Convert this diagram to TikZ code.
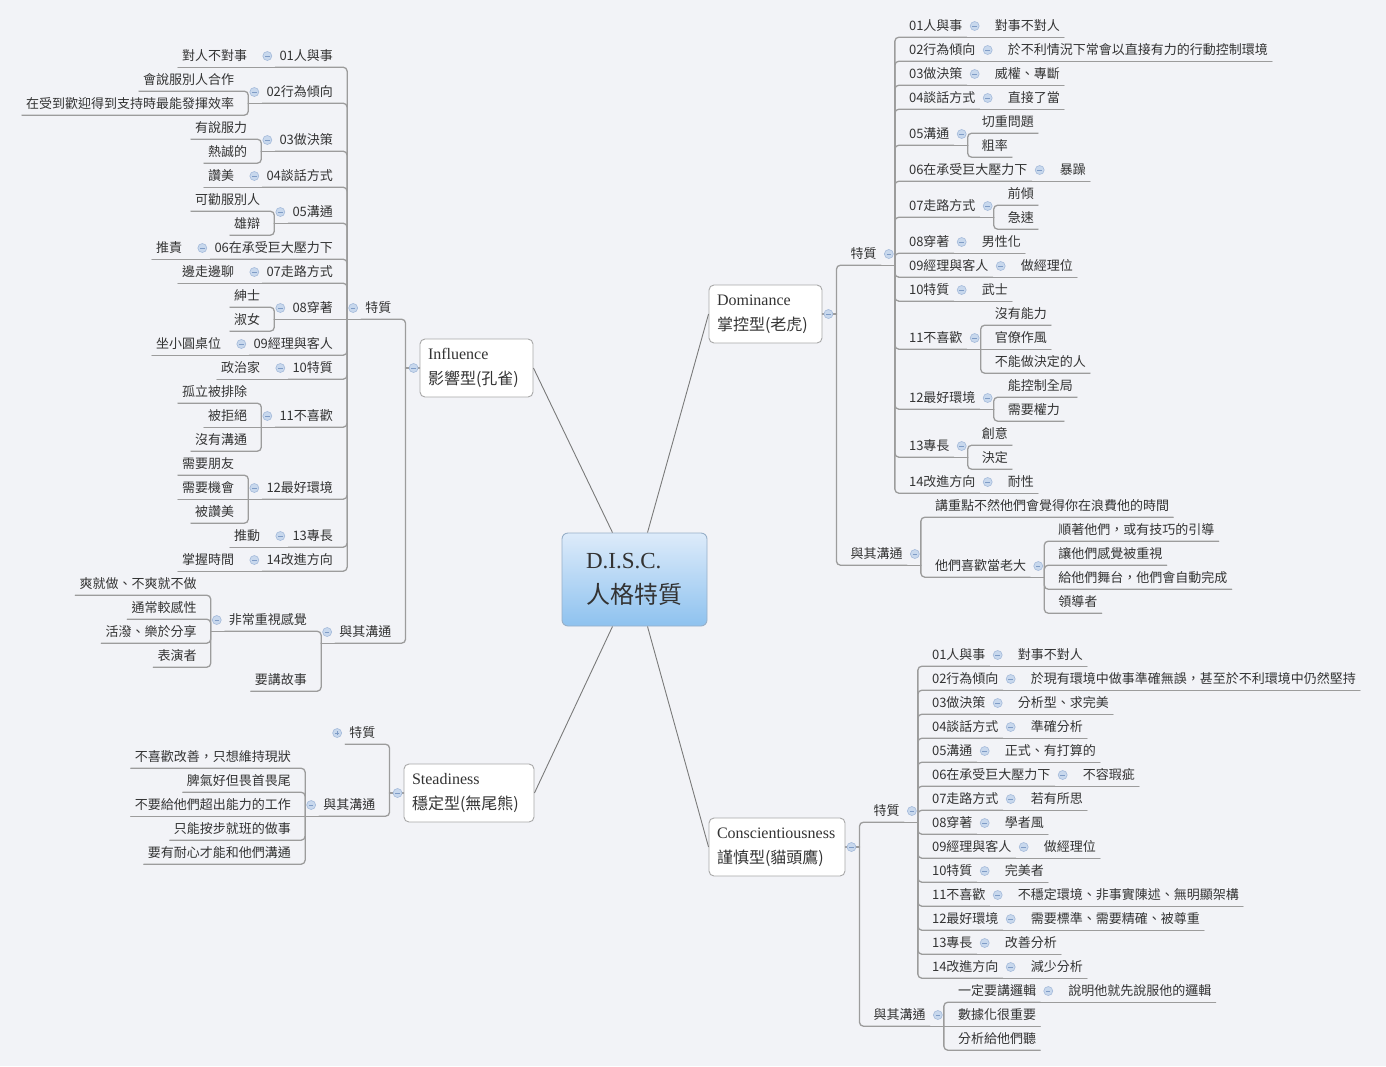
\documentclass[tikz,border=0pt]{standalone}
\usepackage{fontspec}
\setmainfont{Noto Sans CJK TC}
\newfontfamily\romfont{Liberation Serif}
\usetikzlibrary{positioning}
\definecolor{paper}{HTML}{F2F3F7}
\definecolor{ink}{HTML}{333333}
\definecolor{wire}{HTML}{9C9C9C}
\definecolor{spk}{HTML}{7A7A7A}
\definecolor{boxl}{HTML}{A8A8A8}
\definecolor{ctop}{HTML}{DDEBFA}
\definecolor{cbot}{HTML}{8EC2EF}
\definecolor{cbrd}{HTML}{97AFC8}
\definecolor{icf}{HTML}{C8D8ED}
\definecolor{icd}{HTML}{A4BADA}
\definecolor{icm}{HTML}{7F9CC6}
\tikzset{
  it/.style={inner xsep=4pt, inner ysep=4.5pt, text height=11pt, text depth=2pt, text=ink, font=\fontsize{13}{15}\selectfont},
  wl/.style={wire, line width=1.3pt, rounded corners=4pt, line cap=round},
  topic/.style={draw=boxl, fill=white, line width=0.9pt, rounded corners=5pt, inner xsep=8pt, inner ysep=0pt, minimum height=58pt, align=left, text=ink, font=\fontsize{16}{25}\selectfont},
  hub/.style={draw=cbrd, top color=ctop, bottom color=cbot, line width=0.9pt, rounded corners=6pt, inner xsep=24pt, minimum height=93pt, text width=97pt, align=left, text=ink, font=\fontsize{24}{35}\selectfont},
  fold/.style={circle, draw=icd, fill=icf, line width=0.6pt, inner sep=0pt, minimum size=9pt, path picture={\draw[icm, line width=0.9pt] ([xshift=-2.2pt]path picture bounding box.center) -- ([xshift=2.2pt]path picture bounding box.center);}},
  unfold/.style={circle, draw=icd, fill=icf, line width=0.6pt, inner sep=0pt, minimum size=9pt, path picture={\draw[icm, line width=0.9pt] ([xshift=-2.2pt]path picture bounding box.center) -- ([xshift=2.2pt]path picture bounding box.center) ([yshift=-2.2pt]path picture bounding box.center) -- ([yshift=2.2pt]path picture bounding box.center);}}
}
\newcommand\rfork[1]{\draw[wl] (#1.south east) -- ++(14,0) coordinate (#1-j);
  \node[fold] (#1-f) at ([xshift=8pt]#1.east) {};}
\newcommand\lfork[1]{\draw[wl] (#1.south west) -- ++(-14,0) coordinate (#1-j);
  \node[fold] (#1-f) at ([xshift=-8pt]#1.west) {};}
\newcommand\rkid[4]{\node[it, right=24pt of #1, yshift=#3pt] (#2) {#4};
  \ifnum#3=0 \draw[wl] (#1-j) -- (#2.south east);\else\draw[wl] (#1-j) |- (#2.south east);\fi}
\newcommand\lkid[4]{\node[it, left=24pt of #1, yshift=#3pt] (#2) {#4};
  \ifnum#3=0 \draw[wl] (#1-j) -- (#2.south west);\else\draw[wl] (#1-j) |- (#2.south west);\fi}

\begin{document}
\begin{tikzpicture}[x=1pt, y=-1pt]
  \fill[paper] (0,0) rectangle (1386,1066);
  \useasboundingbox (0,0) rectangle (1386,1066);

  \node[hub] (disc) at (634.5,579.5) {{\romfont\fontsize{23}{35}\selectfont D.I.S.C.}\\人格特質};
  \node[topic, text width=97pt] (inf) at (476.5,368) {{\romfont Influence}\\影響型(孔雀)};
  \node[topic, text width=97pt] (dom) at (765.5,314) {{\romfont Dominance}\\掌控型(老虎)};
  \node[topic, text width=114pt] (std) at (469,793) {{\romfont Steadiness}\\穩定型(無尾熊)};
  \node[topic, text width=120pt] (con) at (777,847) {{\romfont Conscientiousness}\\謹慎型(貓頭鷹)};
  \draw[spk, line width=0.9pt] ([xshift=-22pt]disc.north) -- (inf.east);
  \draw[spk, line width=0.9pt] ([xshift=13pt]disc.north) -- (dom.west);
  \draw[spk, line width=0.9pt] ([xshift=-22pt]disc.south) -- (std.east);
  \draw[spk, line width=0.9pt] ([xshift=13pt]disc.south) -- (con.west);

  \draw[wl] (dom.east) -- ++(14,0) coordinate (dom-j);
  \node[fold] (dom-f) at ([xshift=6pt]dom.east) {};
  \rkid{dom}{d1}{60}{特質}
  \rkid{dom}{d2}{-240}{與其溝通}
  \rfork{d1}
  \rkid{d1}{d01}{228}{01人與事} \rfork{d01} \rkid{d01}{d01a}{0}{對事不對人}
  \rkid{d1}{d02}{204}{02行為傾向} \rfork{d02} \rkid{d02}{d02a}{0}{於不利情況下常會以直接有力的行動控制環境}
  \rkid{d1}{d03}{180}{03做決策} \rfork{d03} \rkid{d03}{d03a}{0}{威權、專斷}
  \rkid{d1}{d04}{156}{04談話方式} \rfork{d04} \rkid{d04}{d04a}{0}{直接了當}
  \rkid{d1}{d05}{120}{05溝通} \rfork{d05} \rkid{d05}{d05a}{12}{切重問題} \rkid{d05}{d05b}{-12}{粗率}
  \rkid{d1}{d06}{84}{06在承受巨大壓力下} \rfork{d06} \rkid{d06}{d06a}{0}{暴躁}
  \rkid{d1}{d07}{48}{07走路方式} \rfork{d07} \rkid{d07}{d07a}{12}{前傾} \rkid{d07}{d07b}{-12}{急速}
  \rkid{d1}{d08}{12}{08穿著} \rfork{d08} \rkid{d08}{d08a}{0}{男性化}
  \rkid{d1}{d09}{-12}{09經理與客人} \rfork{d09} \rkid{d09}{d09a}{0}{做經理位}
  \rkid{d1}{d10}{-36}{10特質} \rfork{d10} \rkid{d10}{d10a}{0}{武士}
  \rkid{d1}{d11}{-84}{11不喜歡} \rfork{d11}
  \rkid{d11}{d11a}{24}{沒有能力} \rkid{d11}{d11b}{0}{官僚作風} \rkid{d11}{d11c}{-24}{不能做決定的人}
  \rkid{d1}{d12}{-144}{12最好環境} \rfork{d12} \rkid{d12}{d12a}{12}{能控制全局} \rkid{d12}{d12b}{-12}{需要權力}
  \rkid{d1}{d13}{-192}{13專長} \rfork{d13} \rkid{d13}{d13a}{12}{創意} \rkid{d13}{d13b}{-12}{決定}
  \rkid{d1}{d14}{-228}{14改進方向} \rfork{d14} \rkid{d14}{d14a}{0}{耐性}
  \rfork{d2}
  \rkid{d2}{d2a}{48}{講重點不然他們會覺得你在浪費他的時間}
  \rkid{d2}{d2b}{-12}{他們喜歡當老大} \rfork{d2b}
  \rkid{d2b}{d2b1}{36}{順著他們，或有技巧的引導} \rkid{d2b}{d2b2}{12}{讓他們感覺被重視}
  \rkid{d2b}{d2b3}{-12}{給他們舞台，他們會自動完成} \rkid{d2b}{d2b4}{-36}{領導者}

  \draw[wl] (inf.west) -- ++(-14,0) coordinate (inf-j);
  \node[fold] (inf-f) at ([xshift=-6pt]inf.west) {};
  \lkid{inf}{i1}{60}{特質}
  \lkid{inf}{i2}{-264}{與其溝通}
  \lfork{i1}
  \lkid{i1}{i01}{252}{01人與事} \lfork{i01} \lkid{i01}{i01a}{0}{對人不對事}
  \lkid{i1}{i02}{216}{02行為傾向} \lfork{i02} \lkid{i02}{i02a}{12}{會說服別人合作} \lkid{i02}{i02b}{-12}{在受到歡迎得到支持時最能發揮效率}
  \lkid{i1}{i03}{168}{03做決策} \lfork{i03} \lkid{i03}{i03a}{12}{有說服力} \lkid{i03}{i03b}{-12}{熱誠的}
  \lkid{i1}{i04}{132}{04談話方式} \lfork{i04} \lkid{i04}{i04a}{0}{讚美}
  \lkid{i1}{i05}{96}{05溝通} \lfork{i05} \lkid{i05}{i05a}{12}{可勸服別人} \lkid{i05}{i05b}{-12}{雄辯}
  \lkid{i1}{i06}{60}{06在承受巨大壓力下} \lfork{i06} \lkid{i06}{i06a}{0}{推責}
  \lkid{i1}{i07}{36}{07走路方式} \lfork{i07} \lkid{i07}{i07a}{0}{邊走邊聊}
  \lkid{i1}{i08}{0}{08穿著} \lfork{i08} \lkid{i08}{i08a}{12}{紳士} \lkid{i08}{i08b}{-12}{淑女}
  \lkid{i1}{i09}{-36}{09經理與客人} \lfork{i09} \lkid{i09}{i09a}{0}{坐小圓桌位}
  \lkid{i1}{i10}{-60}{10特質} \lfork{i10} \lkid{i10}{i10a}{0}{政治家}
  \lkid{i1}{i11}{-108}{11不喜歡} \lfork{i11}
  \lkid{i11}{i11a}{24}{孤立被排除} \lkid{i11}{i11b}{0}{被拒絕} \lkid{i11}{i11c}{-24}{沒有溝通}
  \lkid{i1}{i12}{-180}{12最好環境} \lfork{i12}
  \lkid{i12}{i12a}{24}{需要朋友} \lkid{i12}{i12b}{0}{需要機會} \lkid{i12}{i12c}{-24}{被讚美}
  \lkid{i1}{i13}{-228}{13專長} \lfork{i13} \lkid{i13}{i13a}{0}{推動}
  \lkid{i1}{i14}{-252}{14改進方向} \lfork{i14} \lkid{i14}{i14a}{0}{掌握時間}
  \lfork{i2}
  \lkid{i2}{i2a}{12}{非常重視感覺} \lfork{i2a}
  \lkid{i2a}{i2a1}{36}{爽就做、不爽就不做} \lkid{i2a}{i2a2}{12}{通常較感性}
  \lkid{i2a}{i2a3}{-12}{活潑、樂於分享} \lkid{i2a}{i2a4}{-36}{表演者}
  \lkid{i2}{i2b}{-48}{要講故事}

  \draw[wl] (std.west) -- ++(-14,0) coordinate (std-j);
  \node[fold] (std-f) at ([xshift=-6pt]std.west) {};
  \lkid{std}{s1}{60}{特質}
  \node[unfold] (s1-f) at ([xshift=-8pt]s1.west) {};
  \lkid{std}{s2}{-12}{與其溝通} \lfork{s2}
  \lkid{s2}{s2a}{48}{不喜歡改善，只想維持現狀} \lkid{s2}{s2b}{24}{脾氣好但畏首畏尾}
  \lkid{s2}{s2c}{0}{不要給他們超出能力的工作} \lkid{s2}{s2d}{-24}{只能按步就班的做事}
  \lkid{s2}{s2e}{-48}{要有耐心才能和他們溝通}

  \draw[wl] (con.east) -- ++(14,0) coordinate (con-j);
  \node[fold] (con-f) at ([xshift=6pt]con.east) {};
  \rkid{con}{c1}{36}{特質}
  \rkid{con}{c2}{-168}{與其溝通}
  \rfork{c1}
  \foreach \n/\s/\a/\b in {01/156/01人與事/對事不對人, 02/132/02行為傾向/於現有環境中做事準確無誤，甚至於不利環境中仍然堅持,
    03/108/03做決策/分析型、求完美, 04/84/04談話方式/準確分析, 05/60/05溝通/正式、有打算的,
    06/36/06在承受巨大壓力下/不容瑕疵, 07/12/07走路方式/若有所思, 08/-12/08穿著/學者風,
    09/-36/09經理與客人/做經理位, 10/-60/10特質/完美者, 11/-84/11不喜歡/不穩定環境、非事實陳述、無明顯架構,
    12/-108/12最好環境/需要標準、需要精確、被尊重, 13/-132/13專長/改善分析, 14/-156/14改進方向/減少分析}
    {\rkid{c1}{c\n}{\s}{\a} \rfork{c\n} \rkid{c\n}{c\n-v}{0}{\b}}
  \rfork{c2}
  \rkid{c2}{c2a}{24}{一定要講邏輯} \rfork{c2a} \rkid{c2a}{c2a1}{0}{說明他就先說服他的邏輯}
  \rkid{c2}{c2b}{0}{數據化很重要}
  \rkid{c2}{c2c}{-24}{分析給他們聽}
\end{tikzpicture}
\end{document}
